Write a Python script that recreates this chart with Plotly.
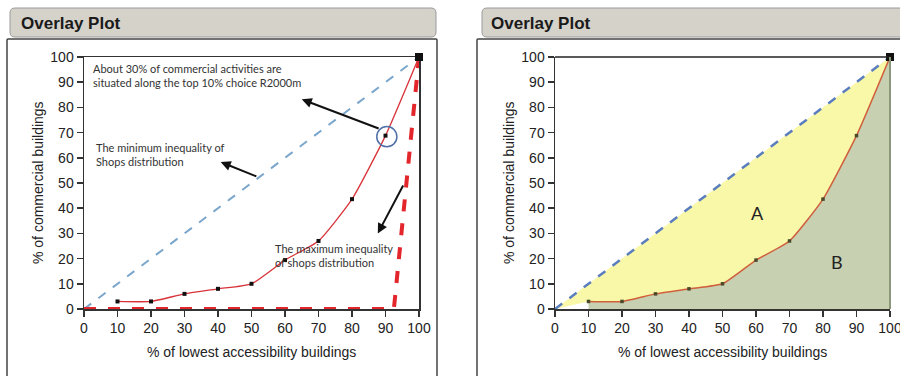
import plotly.graph_objects as go

W, H = 900, 376

# ---- data ----
curve_x = [10, 20, 30, 40, 50, 60, 70, 80, 90, 100]
curve_y = [3, 3, 6, 8, 10, 19.4, 27, 43.6, 68.8, 100]
equal_x = [0, 100]
equal_y = [0, 100]
maxineq_x = [0, 92.5, 100]
maxineq_y = [0, 0, 100]
end_x = [100]
end_y = [100]
tick_vals = [0, 10, 20, 30, 40, 50, 60, 70, 80, 90, 100]
tick_text = [str(v) for v in tick_vals]
panel_title = "Overlay Plot"
x_title = "% of lowest accessibility buildings"
y_title = "% of commercial buildings"


def px(x):
    return x / W


def py(y):
    return 1 - y / H


def rrect(x0, y0, x1, y1, r):
    X0, X1 = px(x0), px(x1)
    rx, ry = r / W, r / H
    Y0, Y1 = py(y0), py(y1)
    return (f"M{X0+rx},{Y0} L{X1-rx},{Y0} Q{X1},{Y0} {X1},{Y0-ry} "
            f"L{X1},{Y1+ry} Q{X1},{Y1} {X1-rx},{Y1} L{X0+rx},{Y1} "
            f"Q{X0},{Y1} {X0},{Y1+ry} L{X0},{Y0-ry} Q{X0},{Y0} {X0+rx},{Y0} Z")


fig = go.Figure()

# ---------- left panel ----------
fig.add_trace(go.Scatter(x=equal_x, y=equal_y, mode="lines",
                         line=dict(color="#7aa6cc", width=2, dash="dash"),
                         xaxis="x", yaxis="y", hoverinfo="skip"))
fig.add_trace(go.Scatter(x=maxineq_x, y=maxineq_y, mode="lines",
                         line=dict(color="#e3262b", width=4, dash="dash"),
                         xaxis="x", yaxis="y", hoverinfo="skip"))
fig.add_trace(go.Scatter(x=curve_x, y=curve_y, mode="lines+markers",
                         line=dict(color="#d8333a", width=1.3, shape="spline", smoothing=0.5),
                         marker=dict(symbol="square", size=4, color="#111"),
                         xaxis="x", yaxis="y", cliponaxis=False))
fig.add_trace(go.Scatter(x=end_x, y=end_y, mode="markers",
                         marker=dict(symbol="square", size=8, color="#111"),
                         xaxis="x", yaxis="y", cliponaxis=False))

# ---------- right panel ----------
yellow_x = equal_x + curve_x[::-1] + [equal_x[0]]
yellow_y = equal_y + curve_y[::-1] + [equal_y[0]]
fig.add_trace(go.Scatter(x=yellow_x, y=yellow_y, mode="lines", fill="toself",
                         fillcolor="#f9f7a8", line=dict(width=0),
                         xaxis="x2", yaxis="y2", hoverinfo="skip"))
green_x = curve_x + [curve_x[-1], curve_x[0]]
green_y = curve_y + [0, 0]
fig.add_trace(go.Scatter(x=green_x, y=green_y, mode="lines", fill="toself",
                         fillcolor="#c8d0b2", line=dict(width=0),
                         xaxis="x2", yaxis="y2", hoverinfo="skip"))
fig.add_trace(go.Scatter(x=equal_x, y=equal_y, mode="lines",
                         line=dict(color="#5a7dbd", width=2.5, dash="dash"),
                         xaxis="x2", yaxis="y2", hoverinfo="skip"))
fig.add_trace(go.Scatter(x=curve_x, y=curve_y, mode="lines+markers",
                         line=dict(color="#d0603a", width=1.5, shape="spline", smoothing=0.5),
                         marker=dict(symbol="square", size=3.5, color="#4a4a2a"),
                         xaxis="x2", yaxis="y2", cliponaxis=False))
fig.add_trace(go.Scatter(x=end_x, y=end_y, mode="markers",
                         marker=dict(symbol="square", size=8, color="#111"),
                         xaxis="x2", yaxis="y2", cliponaxis=False))

tickfont = dict(family="Liberation Sans, Arial, sans-serif", size=14, color="#222")
common_axis = dict(range=[0, 100], tickvals=tick_vals, ticktext=tick_text,
                   showgrid=False, zeroline=False, showline=True,
                   linecolor="#333", linewidth=1.5, ticks="outside",
                   ticklen=6, tickwidth=1.5, tickcolor="#333",
                   tickfont=tickfont, layer="below traces", fixedrange=True,
                   automargin=False, ticklabeloverflow="allow")

ydom = [py(309), py(57)]
fig.update_layout(
    width=W, height=H, margin=dict(l=0, r=0, t=0, b=0, pad=0, autoexpand=False),
    paper_bgcolor="white", plot_bgcolor="rgba(0,0,0,0)",
    showlegend=False,
    xaxis=dict(domain=[px(84), px(419)], anchor="y", mirror=True, **common_axis),
    yaxis=dict(domain=ydom, anchor="x", mirror=True, **common_axis),
    xaxis2=dict(domain=[px(555), px(890)], anchor="y2", mirror=False, **common_axis),
    yaxis2=dict(domain=ydom, anchor="x2", mirror=False, **common_axis),
)

shapes = []
# frames and header bars
for (bx0, bx1, hx0, hx1) in [(7, 437, 10, 436), (477, 910, 482, 910)]:
    shapes.append(dict(type="path", xref="paper", yref="paper",
                       path=rrect(bx0, 39, bx1, 385, 1),
                       line=dict(color="#444", width=1.5), fillcolor="rgba(0,0,0,0)", layer="below"))
    shapes.append(dict(type="path", xref="paper", yref="paper",
                       path=rrect(hx0, 8, hx1, 37, 5),
                       line=dict(color="#9a9a9a", width=1), fillcolor="#d5d2ca", layer="below"))
# right panel: top frame line and grey-green right edge
shapes.append(dict(type="line", xref="x2 domain", yref="y2 domain", x0=0, x1=1, y0=1, y1=1,
                   line=dict(color="#222", width=1.5)))
shapes.append(dict(type="line", xref="x2 domain", yref="y2 domain", x0=1, x1=1, y0=0, y1=1,
                   line=dict(color="#8a9878", width=2)))
# circle around the 90% point
shapes.append(dict(type="circle", xref="x", yref="y", x0=87.4, x1=93.4, y0=64.4, y1=72.4,
                   line=dict(color="#4f6fa8", width=1.5)))
fig.update_layout(shapes=shapes)

ann = []
hdr_font = dict(family="Liberation Sans, Arial, sans-serif", size=17, color="#1a1a1a")
for hx in [19, 489]:
    ann.append(dict(text=f"<b>{panel_title}</b>", x=px(hx), y=py(23), xref="paper", yref="paper",
                    xanchor="left", yanchor="middle", showarrow=False, font=hdr_font))
title_font = dict(family="Liberation Sans, Arial, sans-serif", size=14, color="#222")
for cx, yc in [(251, 38), (722, 509)]:
    ann.append(dict(text=x_title, x=px(cx), y=py(352), xref="paper", yref="paper",
                    xanchor="center", yanchor="middle", showarrow=False, font=title_font))
    ann.append(dict(text=y_title, x=px(yc), y=py(183), xref="paper", yref="paper",
                    xanchor="center", yanchor="middle", showarrow=False, textangle=-90,
                    font=title_font))

note_font = dict(family="Lato, Open Sans, sans-serif", size=11, color="#333")
ann.append(dict(text="About 30% of commercial activities are<br>situated along the top 10% choice R2000m",
                x=2, y=92.5, xref="x", yref="y", xanchor="left", yanchor="middle",
                align="left", showarrow=False, font=note_font))
ann.append(dict(text="The minimum inequality of<br>Shops distribution",
                x=3, y=61.5, xref="x", yref="y", xanchor="left", yanchor="middle",
                align="left", showarrow=False, font=note_font))
ann.append(dict(text="The maximum inequality<br>of shops distribution",
                x=56.3, y=21.4, xref="x", yref="y", xanchor="left", yanchor="middle",
                align="left", showarrow=False, font=note_font))

for (tx, ty, hx, hy) in [(88.4, 71.4, 65.0, 83.2), (51.9, 52.4, 40.8, 58.3), (95.5, 49.6, 87.7, 30.0)]:
    ann.append(dict(x=hx, y=hy, ax=tx, ay=ty, xref="x", yref="y", axref="x", ayref="y",
                    text="", showarrow=True, arrowhead=2, arrowsize=1, arrowwidth=2,
                    arrowcolor="#111"))

ab_font = dict(family="Lato, Open Sans, sans-serif", size=18, color="#222")
ann.append(dict(text="A", x=60.3, y=38, xref="x2", yref="y2", showarrow=False, font=ab_font))
ann.append(dict(text="B", x=84.1, y=18.8, xref="x2", yref="y2", showarrow=False, font=ab_font))
fig.update_layout(annotations=ann)

fig.write_html("out.html", config={"displayModeBar": False, "staticPlot": True},
               post_script="document.body.style.margin='0px';document.body.style.overflow='hidden';")
